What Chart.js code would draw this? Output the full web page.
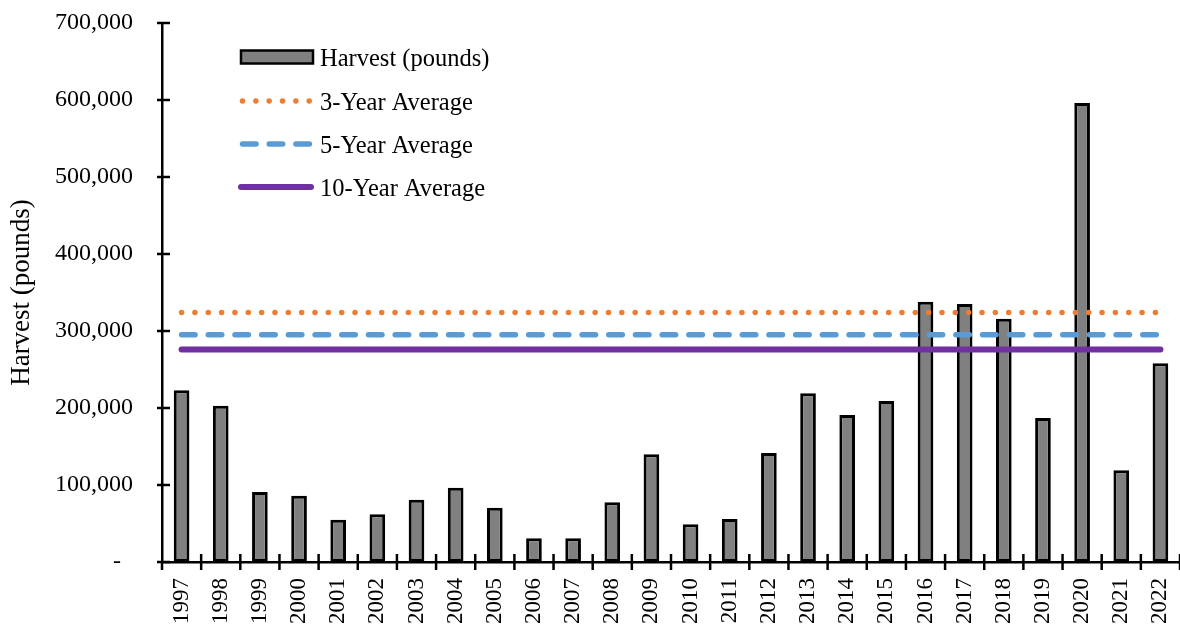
<!DOCTYPE html>
<html>
<head>
<meta charset="utf-8">
<title>Harvest (pounds), 1997–2022</title>
<script src="https://cdn.jsdelivr.net/npm/chart.js@4.4.1/dist/chart.umd.min.js"></script>
<style>
  html, body { margin: 0; padding: 0; background: #ffffff; }
  #wrap { position: relative; width: 1180px; height: 625px; }
</style>
</head>
<body>
<div id="wrap"><canvas id="harvestChart"></canvas></div>
<script>
// Annual harvest, pounds
const years = ['1997','1998','1999','2000','2001','2002','2003','2004','2005','2006','2007','2008','2009',
               '2010','2011','2012','2013','2014','2015','2016','2017','2018','2019','2020','2021','2022'];
const harvest = [223000, 203000, 91000, 86000, 55000, 62000, 81000, 96500, 70500, 31000, 31000, 77500, 140000,
                 49000, 56000, 141500, 219000, 191000, 209000, 338000, 335000, 316000, 187000, 596000, 119000, 258000];

// Running averages (pounds), drawn as flat reference lines
const threeYearAverage = 324000;
const fiveYearAverage = 295000;
const tenYearAverage = 276000;

// Y axis ticks
const yTicks = [0, 100000, 200000, 300000, 400000, 500000, 600000, 700000];

const FONT = "'Liberation Serif', 'Times New Roman', serif";

function flat(v) { return years.map(() => v); }

// Tick marks that cross the axis lines
const crossTicks = {
  id: 'crossTicks',
  afterDatasetsDraw(chart) {
    const { ctx, scales: { x, y } } = chart;
    ctx.save();
    ctx.strokeStyle = '#000';
    ctx.lineWidth = 2.5;
    ctx.lineCap = 'butt';
    const ax = chart.chartArea.left;
    const ay = chart.chartArea.bottom;
    y.ticks.forEach((t, i) => {
      const py = y.getPixelForTick(i);
      ctx.beginPath();
      ctx.moveTo(ax - 5, py);
      ctx.lineTo(ax + 8, py);
      ctx.stroke();
    });
    for (let i = 0; i <= years.length; i++) {
      const px = x.getPixelForValue(i - 0.5);
      ctx.beginPath();
      ctx.moveTo(px, i === 0 ? ay : ay - 8);
      ctx.lineTo(px, ay + 8);
      ctx.stroke();
    }
    ctx.restore();
  }
};

// Legend block in the upper left of the plot
const seriesKey = {
  id: 'seriesKey',
  afterDraw(chart) {
    const { ctx } = chart;
    const x0 = 241, x1 = 311, textX = 320;
    const rows = [57, 101, 144, 187];
    ctx.save();
    ctx.font = `24.5px ${FONT}`;
    ctx.textBaseline = 'alphabetic';
    ctx.textAlign = 'left';
    chart.data.datasets.forEach((ds, i) => {
      const cy = rows[i];
      if (ds.type === 'bar') {
        ctx.fillStyle = ds.backgroundColor;
        ctx.fillRect(x0, cy - 6.5, x1 + 2 - x0, 13);
        ctx.strokeStyle = ds.borderColor;
        ctx.lineWidth = 2.5;
        ctx.strokeRect(x0, cy - 6.5, x1 + 2 - x0, 13);
      } else {
        ctx.strokeStyle = ds.borderColor;
        ctx.lineWidth = ds.borderWidth;
        ctx.lineCap = ds.borderCapStyle || 'butt';
        ctx.setLineDash(ds.borderDash || []);
        ctx.beginPath();
        ctx.moveTo(ds.borderDash && ds.borderDash.length ? x0 + 1.5 : x0, cy);
        ctx.lineTo(x1, cy);
        ctx.stroke();
        ctx.setLineDash([]);
      }
      ctx.fillStyle = '#000';
      ctx.fillText(ds.label, textX, cy + 9);
    });
    ctx.restore();
  }
};

new Chart(document.getElementById('harvestChart'), {
  type: 'bar',
  data: {
    labels: years,
    datasets: [
      {
        type: 'bar',
        label: 'Harvest (pounds)',
        data: harvest,
        backgroundColor: '#808080',
        borderColor: '#000000',
        borderWidth: 3,
        borderSkipped: false,
        categoryPercentage: 1.0,
        barPercentage: 0.4,
        order: 4
      },
      {
        type: 'line',
        label: '3-Year Average',
        data: flat(threeYearAverage),
        borderColor: '#ED7D31',
        borderWidth: 5.5,
        borderDash: [0.01, 13.33],
        borderCapStyle: 'round',
        pointRadius: 0,
        fill: false,
        order: 1
      },
      {
        type: 'line',
        label: '5-Year Average',
        data: flat(fiveYearAverage),
        borderColor: '#5B9BD5',
        borderWidth: 5.5,
        borderDash: [13.5, 13.2],
        borderCapStyle: 'round',
        pointRadius: 0,
        fill: false,
        order: 2
      },
      {
        type: 'line',
        label: '10-Year Average',
        data: flat(tenYearAverage),
        borderColor: '#7030A0',
        borderWidth: 6,
        borderCapStyle: 'round',
        pointRadius: 0,
        fill: false,
        order: 3
      }
    ]
  },
  options: {
    responsive: true,
    maintainAspectRatio: false,
    animation: false,
    layout: { padding: { top: 23, right: 0, bottom: 0, left: 0 } },
    plugins: {
      legend: { display: false },
      tooltip: { enabled: false }
    },
    scales: {
      x: {
        grid: { display: false, drawTicks: false, offset: true },
        border: { display: true, color: '#000', width: 2.5 },
        ticks: {
          color: '#000',
          font: { family: FONT, size: 23 },
          minRotation: 90,
          maxRotation: 90,
          autoSkip: false,
          padding: 16
        },
        afterFit(scale) {
          scale.height = 63;
          scale.paddingLeft = 0;
          scale.paddingRight = 0;
        }
      },
      y: {
        min: 0,
        max: 700000,
        afterBuildTicks(scale) { scale.ticks = yTicks.map(v => ({ value: v })); },
        grid: { display: false, drawTicks: false },
        border: { display: true, color: '#000', width: 2.5 },
        ticks: {
          color: '#000',
          font: { family: FONT, size: 24 },
          padding: 29,
          callback: v => (v === 0 ? '-  ' : v.toLocaleString('en-US'))
        },
        title: {
          display: true,
          text: 'Harvest (pounds)',
          color: '#000',
          font: { family: FONT, size: 27 },
          padding: { top: 6, bottom: 0 }
        },
        afterFit(scale) {
          scale.width = 162;
          scale.paddingTop = 0;
          scale.paddingBottom = 0;
        }
      }
    }
  },
  plugins: [crossTicks, seriesKey]
});
</script>
</body>
</html>
